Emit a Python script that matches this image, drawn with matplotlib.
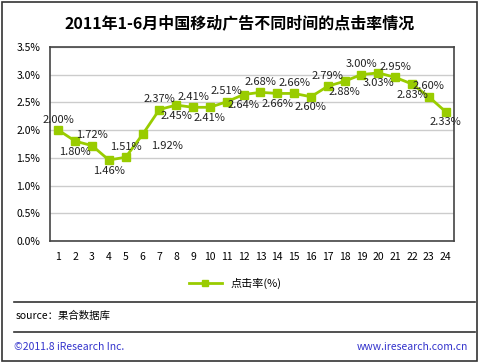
import matplotlib
matplotlib.use("Agg")
import matplotlib.pyplot as plt
from matplotlib.patches import Rectangle
from matplotlib.lines import Line2D

plt.rcParams['font.family'] = ['Noto Sans CJK SC', 'DejaVu Sans']

# data
hours = list(range(1, 25))
click_rate = [2.00, 1.80, 1.72, 1.46, 1.51, 1.92, 2.37, 2.45, 2.41, 2.41, 2.51, 2.64,
              2.68, 2.66, 2.66, 2.60, 2.79, 2.88, 3.00, 3.03, 2.95, 2.83, 2.60, 2.33]
y_ticks = [0.0, 0.5, 1.0, 1.5, 2.0, 2.5, 3.0, 3.5]
title = '2011年1-6月中国移动广告不同时间的点击率情况'
legend_label = '点击率(%)'

green = '#99cc00'

fig = plt.figure(figsize=(4.8, 3.63), dpi=100)
ax = fig.add_axes([0.104, 0.336, 0.842, 0.535])

ax.plot(hours, click_rate, color=green, linewidth=2, marker='s', markersize=5.5,
        markeredgecolor=green, zorder=3)

# value labels: odd hours above, even hours below (hour 6 to the right)
for h, v in zip(hours, click_rate):
    txt = '%.2f%%' % v
    if h == 6:
        ax.annotate(txt, (h, v), xytext=(6, -8), textcoords='offset points',
                    ha='left', va='center', fontsize=8, color='#222222')
    elif h % 2 == 1:
        ax.annotate(txt, (h, v), xytext=(0, 4), textcoords='offset points',
                    ha='center', va='bottom', fontsize=8, color='#222222')
    else:
        ax.annotate(txt, (h, v), xytext=(0, -4), textcoords='offset points',
                    ha='center', va='top', fontsize=8, color='#222222')

ax.set_xlim(0.5, 24.5)
ax.set_ylim(0, 3.5)
ax.set_xticks(hours)
ax.set_xticklabels([str(h) for h in hours], fontsize=7.5)
ax.set_yticks(y_ticks)
ax.set_yticklabels(['%.1f%%' % t for t in y_ticks], fontsize=7.5)
ax.tick_params(length=0, pad=8)
ax.tick_params(axis='y', pad=7)
ax.grid(axis='y', color='#cccccc', linewidth=1)
ax.set_axisbelow(True)
for s in ax.spines.values():
    s.set_color('#444444')
    s.set_linewidth(1.2)

fig.text(0.5, 0.935, title, ha='center', va='center', fontsize=11.5, fontweight='bold')

# legend
handle = Line2D([], [], color=green, linewidth=2, marker='s', markersize=5)
fig.legend([handle], [legend_label], loc='center', bbox_to_anchor=(0.49, 0.22),
           frameon=False, fontsize=8, handlelength=3)

# separator lines and footer
fig.add_artist(Line2D([0.03, 0.99], [0.168, 0.168], color='#333333', linewidth=1.2))
fig.add_artist(Line2D([0.03, 0.99], [0.086, 0.086], color='#333333', linewidth=1.2))
fig.text(0.033, 0.13, 'source：果合数据库', fontsize=7.5, va='center')
fig.text(0.03, 0.043, '©2011.8 iResearch Inc.', fontsize=7.5, va='center', color='#3333cc')
fig.text(0.975, 0.043, 'www.iresearch.com.cn', fontsize=7.5, va='center', ha='right',
         color='#3333cc')

# outer border
fig.add_artist(Rectangle((0.004, 0.006), 0.99, 0.988, transform=fig.transFigure,
                         fill=False, edgecolor='#333333', linewidth=1.2))

fig.savefig('out.png', dpi=100)
